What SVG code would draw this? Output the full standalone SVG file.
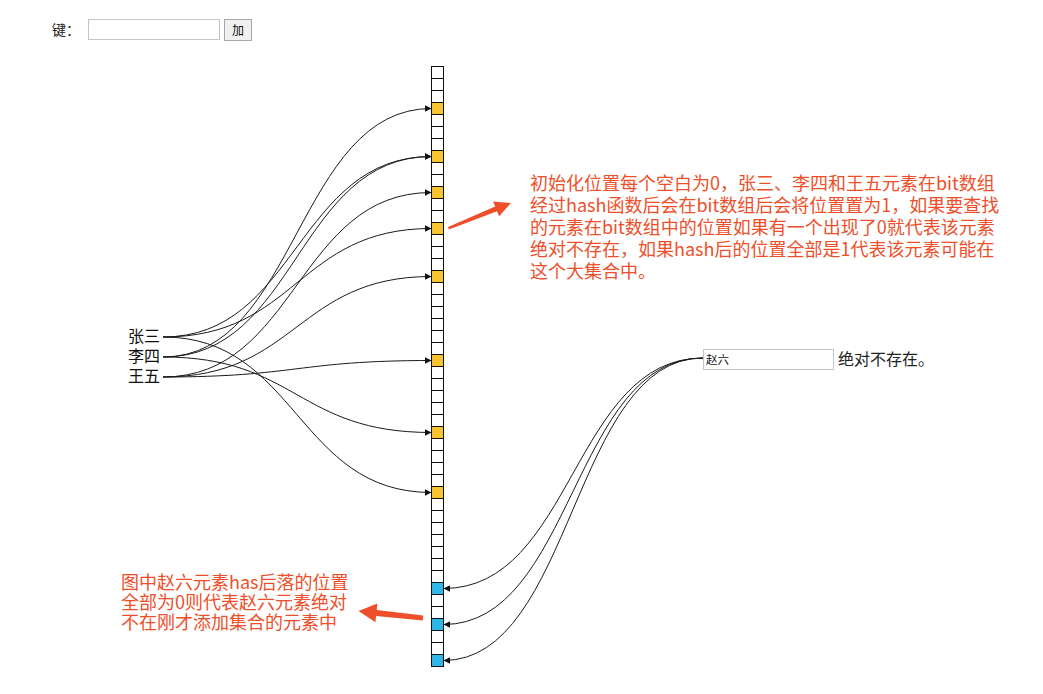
<svg xmlns="http://www.w3.org/2000/svg" width="1043" height="694" viewBox="0 0 1043 694">
<defs>
<style>
.cjk{font-family:"Noto Sans CJK SC","Noto Sans",sans-serif;}
.name{font-size:16px;fill:#111;text-anchor:end;}
.note{font-size:18px;fill:#ee4f2a;}
.cell{fill:#fff;stroke:#111;stroke-width:1;}
.on{fill:#f7c331;}
.miss{fill:#2db6e6;}
.link{fill:none;stroke:#1a1a1a;stroke-width:1;marker-end:url(#arr);}
.red{fill:#ee4f2a;}
</style>
<marker id="arr" viewBox="0 -5 10 10" refX="10" refY="0" markerUnits="userSpaceOnUse" markerWidth="6.5" markerHeight="6.5" orient="auto">
<path d="M0,-5L10,0L0,5Z" fill="#111"/>
</marker>
</defs>
<rect width="1043" height="694" fill="#fff"/>
<g id="form">
<text class="cjk" x="52" y="35" font-size="14" fill="#222">键：</text>
<rect x="88.5" y="19.5" width="131" height="20" fill="#fff" stroke="#c4c4c4"/>
<rect x="224.5" y="19.5" width="27" height="21" fill="#f0f0f0" stroke="#a8a8a8"/>
<text class="cjk" x="238" y="35" font-size="12" fill="#111" text-anchor="middle">加</text>
</g>
<g id="bit-array">
<rect class="cell" x="431.5" y="66.5" width="12" height="12"/>
<rect class="cell" x="431.5" y="78.5" width="12" height="12"/>
<rect class="cell" x="431.5" y="90.5" width="12" height="12"/>
<rect class="cell on" x="431.5" y="102.5" width="12" height="12"/>
<rect class="cell" x="431.5" y="114.5" width="12" height="12"/>
<rect class="cell" x="431.5" y="126.5" width="12" height="12"/>
<rect class="cell" x="431.5" y="138.5" width="12" height="12"/>
<rect class="cell on" x="431.5" y="150.5" width="12" height="12"/>
<rect class="cell" x="431.5" y="162.5" width="12" height="12"/>
<rect class="cell" x="431.5" y="174.5" width="12" height="12"/>
<rect class="cell on" x="431.5" y="186.5" width="12" height="12"/>
<rect class="cell" x="431.5" y="198.5" width="12" height="12"/>
<rect class="cell" x="431.5" y="210.5" width="12" height="12"/>
<rect class="cell on" x="431.5" y="222.5" width="12" height="12"/>
<rect class="cell" x="431.5" y="234.5" width="12" height="12"/>
<rect class="cell" x="431.5" y="246.5" width="12" height="12"/>
<rect class="cell" x="431.5" y="258.5" width="12" height="12"/>
<rect class="cell on" x="431.5" y="270.5" width="12" height="12"/>
<rect class="cell" x="431.5" y="282.5" width="12" height="12"/>
<rect class="cell" x="431.5" y="294.5" width="12" height="12"/>
<rect class="cell" x="431.5" y="306.5" width="12" height="12"/>
<rect class="cell" x="431.5" y="318.5" width="12" height="12"/>
<rect class="cell" x="431.5" y="330.5" width="12" height="12"/>
<rect class="cell" x="431.5" y="342.5" width="12" height="12"/>
<rect class="cell on" x="431.5" y="354.5" width="12" height="12"/>
<rect class="cell" x="431.5" y="366.5" width="12" height="12"/>
<rect class="cell" x="431.5" y="378.5" width="12" height="12"/>
<rect class="cell" x="431.5" y="390.5" width="12" height="12"/>
<rect class="cell" x="431.5" y="402.5" width="12" height="12"/>
<rect class="cell" x="431.5" y="414.5" width="12" height="12"/>
<rect class="cell on" x="431.5" y="426.5" width="12" height="12"/>
<rect class="cell" x="431.5" y="438.5" width="12" height="12"/>
<rect class="cell" x="431.5" y="450.5" width="12" height="12"/>
<rect class="cell" x="431.5" y="462.5" width="12" height="12"/>
<rect class="cell" x="431.5" y="474.5" width="12" height="12"/>
<rect class="cell on" x="431.5" y="486.5" width="12" height="12"/>
<rect class="cell" x="431.5" y="498.5" width="12" height="12"/>
<rect class="cell" x="431.5" y="510.5" width="12" height="12"/>
<rect class="cell" x="431.5" y="522.5" width="12" height="12"/>
<rect class="cell" x="431.5" y="534.5" width="12" height="12"/>
<rect class="cell" x="431.5" y="546.5" width="12" height="12"/>
<rect class="cell" x="431.5" y="558.5" width="12" height="12"/>
<rect class="cell" x="431.5" y="570.5" width="12" height="12"/>
<rect class="cell miss" x="431.5" y="582.5" width="12" height="12"/>
<rect class="cell" x="431.5" y="594.5" width="12" height="12"/>
<rect class="cell" x="431.5" y="606.5" width="12" height="12"/>
<rect class="cell miss" x="431.5" y="618.5" width="12" height="12"/>
<rect class="cell" x="431.5" y="630.5" width="12" height="12"/>
<rect class="cell" x="431.5" y="642.5" width="12" height="12"/>
<rect class="cell miss" x="431.5" y="654.5" width="12" height="12"/>
</g>
<g id="zhangsan"><text class="cjk name" x="160" y="342">张三</text></g>
<g id="lisi"><text class="cjk name" x="160" y="362">李四</text></g>
<g id="wangwu"><text class="cjk name" x="160" y="382">王五</text></g>
<g id="zhaoliu">
<rect x="703.5" y="349.5" width="130" height="20" fill="#fff" stroke="#c4c4c4"/>
<text class="cjk" x="706" y="364" font-size="11.5" fill="#111">赵六</text>
<text class="cjk" x="838" y="365" font-size="16" fill="#222">绝对不存在。</text>
</g>
<g id="connectors">
<path class="link" d="M163,337C297,337 297,156.5 431.5,156.5"/>
<path class="link" d="M163,337C297,337 297,228.5 431.5,228.5"/>
<path class="link" d="M163,337C297,337 297,492.5 431.5,492.5"/>
<path class="link" d="M163,357C297,357 297,108.5 431.5,108.5"/>
<path class="link" d="M163,357C297,357 297,156.5 431.5,156.5"/>
<path class="link" d="M163,357C297,357 297,432.5 431.5,432.5"/>
<path class="link" d="M163,377C297,377 297,192.5 431.5,192.5"/>
<path class="link" d="M163,377C297,377 297,276.5 431.5,276.5"/>
<path class="link" d="M163,377C297,377 297,360.5 431.5,360.5"/>
<path class="link" d="M703,358C573,358 573,588.5 443.5,588.5"/>
<path class="link" d="M703,358C573,358 573,624.5 443.5,624.5"/>
<path class="link" d="M703,358C573,358 573,660.5 443.5,660.5"/>
</g>
<g id="note-top">
<polygon class="red" points="448.1,226.9 495.2,206.6 493.1,201.5 511,203 499.1,216.3 497.0,211.2 448.9,229.6"/>
<text class="cjk note" x="530" y="190" font-size="18.4">初始化位置每个空白为0，张三、李四和王五元素在bit数组</text>
<text class="cjk note" x="530" y="212" font-size="18.4">经过hash函数后会在bit数组后会将位置置为1，如果要查找</text>
<text class="cjk note" x="530" y="234" font-size="18.4">的元素在bit数组中的位置如果有一个出现了0就代表该元素</text>
<text class="cjk note" x="530" y="256" font-size="18.4">绝对不存在，如果hash后的位置全部是1代表该元素可能在</text>
<text class="cjk note" x="530" y="278" font-size="18.4">这个大集合中。</text>
</g>
<g id="note-bottom">
<polygon class="red" points="423.2,615.5 376.7,609.9 377.4,603.5 358.5,611 375.4,622.3 376.1,615.9 422.8,620.5"/>
<text class="cjk note" x="121" y="589">图中赵六元素has后落的位置</text>
<text class="cjk note" x="121" y="609">全部为0则代表赵六元素绝对</text>
<text class="cjk note" x="121" y="629">不在刚才添加集合的元素中</text>
</g>
</svg>
